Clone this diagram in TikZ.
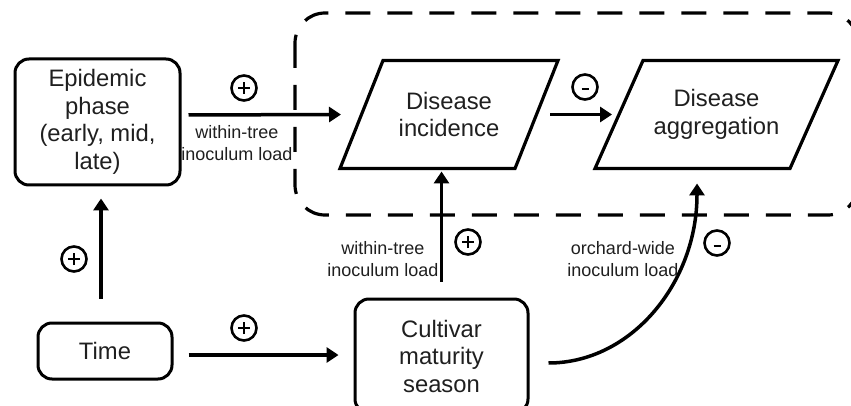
\documentclass[tikz,border=0pt]{standalone}
\usepackage{fontspec}
\setmainfont{Liberation Sans}
\usetikzlibrary{arrows.meta}
\begin{document}
\begin{tikzpicture}[x=1pt,y=-1pt,
  txt/.style={font=\fontsize{23.8}{27.5}\selectfont, align=center, text=black!88},
  rbox/.style={txt, draw, line width=3pt, rounded corners=14pt, inner sep=0pt},
  para/.style={txt, minimum height=108pt, inner sep=0pt, outer sep=0pt},
  paraline/.style={draw, line width=3.2pt, line join=miter},
  lab/.style={font=\fontsize{18}{22}\selectfont, align=center, text=black!88},
  arr/.style={line width=3.5pt, -{Triangle[length=12pt,width=15pt]}},
  sign/.style={circle, draw, line width=2.6pt, minimum size=25pt, inner sep=0pt},
  psign/.style={sign, path picture={\draw[line width=2pt] ([xshift=-6pt]path picture bounding box.center) -- ([xshift=6pt]path picture bounding box.center) ([yshift=-6pt]path picture bounding box.center) -- ([yshift=6pt]path picture bounding box.center);}},
  msign/.style={sign, path picture={\draw[line width=2pt] ([xshift=-3.5pt,yshift=-2.5pt]path picture bounding box.center) -- ([xshift=3.5pt,yshift=-2.5pt]path picture bounding box.center);}},
  zone/.style={line width=3.2pt, dash pattern=on 25pt off 17pt, rounded corners=30pt}
]
\useasboundingbox (0,0) rectangle (851,406);
\clip (0,0) rectangle (851,406);

% dashed zone
\draw[zone] (295,13) rectangle (858,215);

% nodes
\node[rbox, minimum width=165pt, minimum height=126pt] (epi) at (97.5,122) {Epidemic\\phase\\(early, mid,\\late)};
\node[rbox, minimum width=134pt, minimum height=56pt] (time) at (105,351) {Time};
\node[rbox, minimum width=173pt, minimum height=114pt] (cult) at (441.5,356) {Cultivar\\maturity\\season};
\node[para, minimum width=218pt] (inc) at (449,114.5) {Disease\\incidence};
\node[para, minimum width=243pt] (agg) at (716.5,114.5) {Disease\\aggregation};
\draw[paraline] ([xshift=43pt]inc.north west) -- (inc.north east) -- ([xshift=-43pt]inc.south east) -- (inc.south west) -- cycle;
\draw[paraline] ([xshift=48pt]agg.north west) -- (agg.north east) -- ([xshift=-48pt]agg.south east) -- (agg.south west) -- cycle;

% connectors
\draw[arr, shorten <=7pt] ([yshift=7pt]epi.east) -- ([xshift=-108pt]inc.center);
\draw[arr] ([xshift=101pt]inc.center) -- ([xshift=-104.5pt]agg.center);
\draw[arr, shorten <=23pt, shorten >=12pt] ([xshift=-4pt]time.north) -- ([xshift=3.5pt]epi.south);
\draw[arr, shorten <=15pt, shorten >=15pt] ([yshift=-4pt]time.east) -- ([yshift=-4pt]time.east -| cult.west);
\draw[arr, shorten <=16pt, shorten >=3pt] (cult.north) -- (cult.north |- inc.south);
\draw[arr] ([xshift=19pt,yshift=-7pt]cult.east) .. controls +(83,0) and +(0,99) .. ([xshift=-19.5pt,yshift=-15pt]agg.south);

% signs
\node[psign] (s1) at (244,88) {};
\node[msign] (s2) at (585,87) {};
\node[psign] (s3) at (74,259) {};
\node[psign] (s4) at (244,328) {};
\node[psign] (s5) at (468,242) {};
\node[msign] (s6) at (717,243) {};

% labels
\node[lab] (l1) at (237,143) {within-tree\\inoculum load};
\node[lab] (l2) at (383,259) {within-tree\\inoculum load};
\node[lab] (l3) at (623,259) {orchard-wide\\inoculum load};
\end{tikzpicture}
\end{document}
